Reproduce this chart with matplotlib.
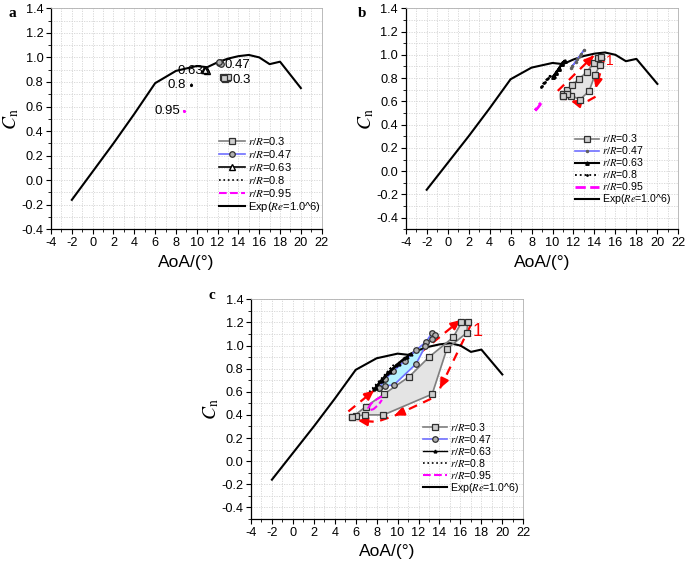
import matplotlib
matplotlib.use("Agg")
import matplotlib.pyplot as plt
from matplotlib.ticker import MultipleLocator, FormatStrFormatter

plt.rcParams['font.family'] = ['Liberation Sans', 'DejaVu Sans']
plt.rcParams['mathtext.fontset'] = 'stix'

# ---------------- data ----------------
exp_aoa = [-2, 0, 2, 4, 6, 8, 9, 10, 11, 12, 13, 14, 15, 16, 17, 18, 20]
exp_cn = [-0.16, 0.07, 0.30, 0.54, 0.79, 0.89, 0.91, 0.93, 0.92, 0.96, 0.99, 1.01, 1.02, 1.00, 0.945, 0.965, 0.75]

# panel a (quasi-steady points)
a03_aoa = [12.5, 12.7, 12.9, 13.0, 12.6]
a03_cn = [0.84, 0.82, 0.83, 0.84, 0.83]
a047_aoa = [12.1, 12.25, 12.3, 12.15]
a047_cn = [0.955, 0.965, 0.95, 0.96]
a063_aoa = [10.7, 10.85, 10.95, 10.8]
a063_cn = [0.895, 0.905, 0.89, 0.90]
a08_aoa = [9.45, 9.55]
a08_cn = [0.775, 0.785]
a095_aoa = [8.75, 8.8]
a095_cn = [0.562, 0.568]
a_labels = ["0.3", "0.47", "0.63", "0.8", "0.95"]

# panel b
b03_aoa = [10.97, 10.97, 11.35, 11.86, 12.56, 13.29, 13.99, 14.3, 14.6, 14.55, 14.05, 13.5, 12.62, 11.8, 11.35, 10.97]
b03_cn = [0.645, 0.667, 0.696, 0.742, 0.794, 0.855, 0.933, 0.97, 0.985, 0.915, 0.83, 0.69, 0.615, 0.65, 0.66, 0.645]
b047_aoa = [11.8, 12.2, 12.6, 13.0, 12.75, 12.35, 11.9]
b047_cn = [0.89, 0.94, 0.99, 1.04, 1.01, 0.96, 0.905]
b063_aoa = [10.05, 10.3, 10.6, 10.9, 11.15, 10.95, 10.65, 10.35, 10.1]
b063_cn = [0.81, 0.84, 0.88, 0.92, 0.95, 0.93, 0.89, 0.85, 0.82]
b08_aoa = [8.9, 9.2, 9.5, 9.75, 9.55, 9.25, 8.95]
b08_cn = [0.72, 0.76, 0.79, 0.82, 0.80, 0.77, 0.735]
b095_aoa = [8.35, 8.6, 8.85, 8.8, 8.55, 8.35]
b095_cn = [0.52, 0.545, 0.575, 0.58, 0.55, 0.525]

# panel c
c03_aoa = [5.65, 6.95, 8.7, 11.1, 13.0, 15.3, 16.1, 16.7, 16.6, 14.7, 13.3, 8.65, 6.9, 6.0, 5.65]
c03_cn = [0.38, 0.47, 0.58, 0.73, 0.90, 1.07, 1.20, 1.20, 1.11, 0.97, 0.58, 0.40, 0.40, 0.39, 0.38]
c047_aoa = [8.2, 8.8, 9.6, 10.7, 11.75, 12.7, 13.3, 13.6, 13.3, 12.65, 11.75, 9.65, 8.75, 8.2]
c047_cn = [0.63, 0.71, 0.78, 0.87, 0.96, 1.03, 1.11, 1.09, 1.06, 0.995, 0.84, 0.66, 0.65, 0.63]
c063_aoa = [7.7, 8.3, 9.0, 9.8, 10.6, 11.3, 10.9, 10.1, 9.3, 8.5, 7.9]
c063_cn = [0.62, 0.69, 0.76, 0.83, 0.89, 0.93, 0.90, 0.84, 0.77, 0.69, 0.63]
c08_aoa = [7.3, 7.8, 8.4, 9.0, 9.6, 9.2, 8.6, 8.0, 7.5]
c08_cn = [0.60, 0.65, 0.71, 0.77, 0.83, 0.79, 0.72, 0.66, 0.61]
c095_aoa = [8.5, 8.0, 7.5, 7.2, 7.3, 7.7, 8.2, 8.5]
c095_cn = [0.56, 0.535, 0.50, 0.46, 0.44, 0.45, 0.49, 0.53]

legend_labels = ["$r/R$=0.3", "$r/R$=0.47", "$r/R$=0.63", "$r/R$=0.8", "$r/R$=0.95", "Exp($Re$=1.0^6)"]

# ---------------- styles ----------------
GRAY = '#7f7f7f'
BLUE = '#6f6fff'
MAG = '#ff00ff'
FILL_GRAY = '#e4e4e4'
FILL_CYAN = '#b5f3ff'
sq = dict(marker='s', ms=4, mfc='#cfcfcf', mec='#303030', mew=0.9)
ci = dict(marker='o', ms=4, mfc='#b0b0b0', mec='#303030', mew=0.9)

fig = plt.figure(figsize=(6.85, 5.63), dpi=100)
ax_a = fig.add_axes([0.0745, 0.5927, 0.3951, 0.3926])
ax_b = fig.add_axes([0.5923, 0.5927, 0.3980, 0.3926])
ax_c = fig.add_axes([0.3664, 0.0782, 0.3975, 0.3902])


def style_axes(ax, ymin):
    ax.set_xlim(-4, 22)
    ax.set_ylim(ymin, 1.4)
    ax.xaxis.set_major_locator(MultipleLocator(2))
    ax.xaxis.set_minor_locator(MultipleLocator(1))
    ax.set_yticks([-0.4, -0.2, 0.0, 0.2, 0.4, 0.6, 0.8, 1.0, 1.2, 1.4])
    ax.yaxis.set_minor_locator(MultipleLocator(0.1))
    ax.yaxis.set_major_formatter(FormatStrFormatter('%.1f'))
    ax.xaxis.set_major_formatter(FormatStrFormatter('%d'))
    ax.grid(True, which='both', color='#d4d4d4', ls=(0, (1.5, 1.5)), lw=0.6)
    ax.set_axisbelow(True)
    ax.tick_params(which='major', direction='out', length=3.5, width=0.8, labelsize=9.2, pad=2)
    ax.tick_params(which='minor', direction='out', length=2, width=0.6)
    for s in ['top', 'right']:
        ax.spines[s].set_color('#b0b0b0')
        ax.spines[s].set_linewidth(0.6)
    for s in ['left', 'bottom']:
        ax.spines[s].set_linewidth(0.9)
    ax.set_xlabel('AoA/(°)', fontsize=12.5, labelpad=4)
    ax.set_ylabel(r'$C_{\mathrm{n}}$', fontsize=14, labelpad=0)


def red_path(ax, pts, arrows):
    xs = [p[0] for p in pts]
    ys = [p[1] for p in pts]
    ax.plot(xs, ys, color='red', lw=1.6, ls=(0, (4, 3)), zorder=2)
    for tail, tip in arrows:
        ax.annotate('', xy=tip, xytext=tail,
                    arrowprops=dict(arrowstyle='-|>,head_length=0.55,head_width=0.25',
                                    color='red', lw=1.6, shrinkA=0, shrinkB=0), zorder=2)


leg_kw = dict(loc='lower right', frameon=False, handlelength=2.3,
              handletextpad=0.3, borderaxespad=0)

# ---------------- panel a ----------------
ax = ax_a
style_axes(ax, -0.4)
h1, = ax.plot(a03_aoa, a03_cn, color=GRAY, lw=1.2, **sq, zorder=4)
h2, = ax.plot(a047_aoa, a047_cn, color=BLUE, lw=1.2, **ci, zorder=4)
h3, = ax.plot(a063_aoa, a063_cn, color='black', lw=1.2, marker='^', ms=4.5, mfc='white', mec='black', zorder=4)
h4, = ax.plot(a08_aoa, a08_cn, color='black', lw=1.2, ls=':', zorder=4)
h5, = ax.plot(a095_aoa, a095_cn, color=MAG, lw=1.5, ls='--', zorder=4)
h6, = ax.plot(exp_aoa, exp_cn, color='black', lw=1.5, zorder=3)
ax.plot(a08_aoa[:1], a08_cn[:1], 'k.', ms=2.5)
ax.plot(a095_aoa[:1], a095_cn[:1], '.', color=MAG, ms=2.5)
txt = dict(fontsize=9.5, va='center')
ax.text(13.45, 0.815, a_labels[0], ha='left', **txt)
ax.text(12.7, 0.935, a_labels[1], ha='left', **txt)
ax.text(10.6, 0.89, a_labels[2], ha='right', **txt)
ax.text(9.0, 0.775, a_labels[3], ha='right', **txt)
ax.text(8.4, 0.566, a_labels[4], ha='right', **txt)
ax.legend([h1, h2, h3, h4, h5, h6], legend_labels, bbox_to_anchor=(1.015, 0.05),
          fontsize=8, labelspacing=0.08, **leg_kw)

# ---------------- panel b ----------------
ax = ax_b
style_axes(ax, -0.5)
ax.fill(b03_aoa, b03_cn, color=FILL_GRAY, zorder=3)
red_path(ax, [(10.5, 0.69), (13.9, 0.99)], [((13.5, 0.953), (13.95, 0.995))])
red_path(ax, [(14.95, 0.97), (14.15, 0.72)], [((14.3, 0.78), (14.12, 0.71))])
red_path(ax, [(14.1, 0.64), (13.0, 0.585), (11.8, 0.60), (11.0, 0.63)], [((12.3, 0.59), (11.75, 0.603))])
h1, = ax.plot(b03_aoa, b03_cn, color=GRAY, lw=1.2, **sq, zorder=4)
h2, = ax.plot(b047_aoa, b047_cn, color=BLUE, lw=1.2, marker='.', ms=3, mfc='#606060', mec='#606060', zorder=4)
h3, = ax.plot(b063_aoa, b063_cn, color='black', lw=1.5, marker='^', ms=2.5, zorder=4)
h4, = ax.plot(b08_aoa, b08_cn, color='black', lw=1.3, ls=':', marker='.', ms=2, zorder=4)
h5, = ax.plot(b095_aoa, b095_cn, color=MAG, lw=2.0, ls='--', zorder=4)
h6, = ax.plot(exp_aoa, exp_cn, color='black', lw=1.5, zorder=3)
ax.text(15.1, 0.95, '1', color='red', fontsize=10, ha='left', va='center')
ax.legend([h1, h2, h3, h4, h5, h6], legend_labels, bbox_to_anchor=(0.99, 0.085),
          fontsize=7.6, labelspacing=0.0, **leg_kw)

# ---------------- panel c ----------------
ax = ax_c
style_axes(ax, -0.5)
ax.fill(c03_aoa, c03_cn, color=FILL_GRAY, zorder=2)
red_path(ax, [(5.3, 0.43), (16.0, 1.22)], [((7.1, 0.563), (7.75, 0.612)), ((15.3, 1.17), (16.0, 1.22))])
red_path(ax, [(17.0, 1.18), (14.05, 0.63)], [((14.4, 0.695), (14.05, 0.63))])
red_path(ax, [(13.2, 0.54), (9.9, 0.40), (8.0, 0.34), (6.2, 0.35)],
         [((10.6, 0.43), (9.7, 0.395)), ((6.9, 0.345), (6.2, 0.352))])
ax.fill(c047_aoa, c047_cn, color=FILL_CYAN, zorder=3)
h1, = ax.plot(c03_aoa, c03_cn, color=GRAY, lw=1.2, **sq, zorder=4)
h2, = ax.plot(c047_aoa, c047_cn, color=BLUE, lw=1.2, **ci, zorder=4)
h3, = ax.plot(c063_aoa, c063_cn, color='black', lw=1.0, marker='^', ms=2, zorder=4)
h4, = ax.plot(c08_aoa, c08_cn, color='black', lw=1.2, ls=':', zorder=4)
h5, = ax.plot(c095_aoa, c095_cn, color=MAG, lw=1.5, ls='--', zorder=4)
h6, = ax.plot(exp_aoa, exp_cn, color='black', lw=1.5, zorder=3)
ax.text(17.2, 1.12, '1', color='red', fontsize=13, ha='left', va='center')
ax.legend([h1, h2, h3, h4, h5, h6], legend_labels, bbox_to_anchor=(1.0, 0.09),
          fontsize=7.6, labelspacing=0.0, **leg_kw)

# panel letters
fig.text(0.013, 0.988, 'a', fontsize=11, fontweight='bold', family='Liberation Serif', va='top')
fig.text(0.523, 0.988, 'b', fontsize=11, fontweight='bold', family='Liberation Serif', va='top')
fig.text(0.305, 0.487, 'c', fontsize=11, fontweight='bold', family='Liberation Serif', va='top')

fig.savefig('out.png', dpi=100)
